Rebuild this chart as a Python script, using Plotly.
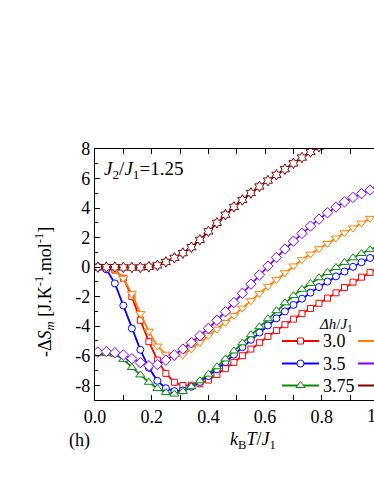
import plotly.graph_objects as go

# ---------------- data ----------------
T = [0.01, 0.04, 0.07, 0.10, 0.13, 0.16, 0.19, 0.22, 0.25, 0.28, 0.31, 0.34,
     0.37, 0.40, 0.43, 0.46, 0.49, 0.52, 0.55, 0.58, 0.61, 0.64, 0.67, 0.70,
     0.73, 0.76, 0.79, 0.82, 0.85, 0.88, 0.91, 0.94, 0.97, 1.00]

dS_30 = [0.0, -0.05, -0.2, -0.75, -2.0, -3.6, -5.05, -6.3, -7.2, -7.8, -8.02, -8.0,
         -7.9, -7.65, -7.28, -6.88, -6.45, -6.0, -5.55, -5.12, -4.7, -4.3, -3.9, -3.52,
         -3.15, -2.8, -2.45, -2.1, -1.74, -1.38, -1.02, -0.68, -0.36, -0.08]

dS_35 = [0.0, -0.15, -1.1, -2.6, -4.15, -5.6, -6.82, -7.7, -8.2, -8.4, -8.35, -8.1,
         -7.78, -7.38, -6.92, -6.43, -5.93, -5.42, -4.92, -4.43, -3.95, -3.47, -3.0, -2.56,
         -2.14, -1.73, -1.35, -0.98, -0.63, -0.3, 0.02, 0.33, 0.62, 0.9]

dS_375 = [-5.85, -5.85, -5.9, -6.25, -6.8, -7.3, -7.8, -8.22, -8.5, -8.6, -8.42, -8.1,
          -7.7, -7.25, -6.75, -6.22, -5.68, -5.13, -4.58, -4.04, -3.5, -2.95, -2.42, -1.93,
          -1.5, -1.1, -0.72, -0.36, -0.02, 0.32, 0.63, 0.92, 1.18, 1.42]

dS_orange = [0.0, -0.03, -0.2, -0.75, -1.8, -3.15, -4.35, -5.35, -5.9, -6.08, -5.95, -5.55,
             -5.1, -4.65, -4.2, -3.75, -3.27, -2.78, -2.28, -1.78, -1.3, -0.85, -0.38, 0.08,
             0.5, 0.88, 1.25, 1.6, 1.97, 2.33, 2.65, 2.98, 3.3, 3.6]

dS_purple = [-5.75, -5.72, -5.8, -5.95, -6.2, -6.47, -6.68, -6.6, -6.3, -5.95, -5.55, -5.12,
             -4.65, -4.15, -3.6, -3.02, -2.4, -1.77, -1.15, -0.53, 0.07, 0.65, 1.22, 1.76,
             2.28, 2.78, 3.25, 3.68, 4.07, 4.42, 4.72, 4.98, 5.22, 5.42]

dS_darkred = [0.0, 0.0, 0.0, -0.02, -0.03, -0.02, 0.02, 0.12, 0.35, 0.63, 0.95, 1.35,
              1.85, 2.42, 3.0, 3.55, 4.08, 4.55, 5.02, 5.46, 5.86, 6.25, 6.63, 7.03,
              7.42, 7.8, 8.15, 8.5, 8.85, 9.2, 9.5, 9.8, 10.1, 10.4]

legend_labels = ["3.0", "3.5", "3.75"]
x_tick_vals = [0.0, 0.2, 0.4, 0.6, 0.8, 1.0]
x_tick_text = ["0.0", "0.2", "0.4", "0.6", "0.8", "1.0"]
y_tick_vals = [-8, -6, -4, -2, 0, 2, 4, 6, 8]
y_tick_text = ["-8", "-6", "-4", "-2", "0", "2", "4", "6", "8"]

# ---------------- styling ----------------
FONT = "Liberation Serif, Times New Roman, Times, serif"
W, H = 374, 484
ML, MT, MB = 95, 149, 84
PX_PER_X = 283.5
XMAX = (W - ML) / PX_PER_X

series = [
    (dS_30, "#FF0000", "square", 6),
    (dS_35, "#0000FF", "circle", 7),
    (dS_375, "#0A8A0A", "triangle-up", 8),
    (dS_orange, "#FF8000", "triangle-down", 8),
    (dS_purple, "#8000FF", "diamond", 8),
    (dS_darkred, "#800000", "hexagram", 8),
]

fig = go.Figure()
for ys, col, sym, sz in series:
    fig.add_trace(go.Scatter(
        x=T, y=ys, mode="lines+markers",
        line=dict(color=col, width=1.8),
        marker=dict(symbol=sym, size=sz, color="white",
                    line=dict(color=col, width=1)),
        showlegend=False, hoverinfo="skip"))

# ---------------- manual legend (overlay axis in plot fractions) ----------------
def fx(px):
    return (px - ML) / (W - ML)

def fy(py):
    return (H - MB - py) / (H - MT - MB)

rows_py = [341, 363.5, 385.5]
col1 = series[:3]
col2 = series[3:]
for i, (ys, col, sym, sz) in enumerate(col1):
    fig.add_trace(go.Scatter(
        x=[fx(282), fx(300.5), fx(319)], y=[fy(rows_py[i])] * 3,
        mode="lines", line=dict(color=col, width=1.8),
        xaxis="x3", yaxis="y3", showlegend=False, hoverinfo="skip"))
    fig.add_trace(go.Scatter(
        x=[fx(300.5)], y=[fy(rows_py[i])], mode="markers",
        marker=dict(symbol=sym, size=sz, color="white", line=dict(color=col, width=1)),
        xaxis="x3", yaxis="y3", showlegend=False, hoverinfo="skip"))
    fig.add_annotation(x=fx(321), y=fy(rows_py[i]), xref="paper", yref="paper",
                       text=legend_labels[i], showarrow=False, xanchor="left",
                       yanchor="middle", font=dict(family=FONT, size=18, color="black"))
for i, (ys, col, sym, sz) in enumerate(col2):
    fig.add_trace(go.Scatter(
        x=[fx(358), fx(400)], y=[fy(rows_py[i])] * 2,
        mode="lines", line=dict(color=col, width=1.8),
        xaxis="x3", yaxis="y3", showlegend=False, hoverinfo="skip"))

fig.add_annotation(x=fx(317), y=fy(325), xref="paper", yref="paper",
                   text="<i>Δh</i>/<i>J</i><sub>1</sub>", showarrow=False,
                   xanchor="left", yanchor="middle",
                   font=dict(family=FONT, size=15, color="black"))

# ---------------- other texts ----------------
fig.add_annotation(x=fx(102), y=fy(170), xref="paper", yref="paper",
                   text="<i>J</i><sub>2</sub>/<i>J</i><sub>1</sub>=1.25", showarrow=False,
                   xanchor="left", yanchor="middle",
                   font=dict(family=FONT, size=19, color="black"))
fig.add_annotation(x=fx(79), y=fy(440), xref="paper", yref="paper",
                   text="(h)", showarrow=False, xanchor="center", yanchor="middle",
                   font=dict(family=FONT, size=18, color="black"))
fig.add_annotation(x=fx(253), y=fy(440), xref="paper", yref="paper",
                   text="<i>k</i><sub>B</sub><i>T</i>/<i>J</i><sub>1</sub>", showarrow=False,
                   xanchor="center", yanchor="middle",
                   font=dict(family=FONT, size=18, color="black"))
fig.add_annotation(x=fx(44), y=fy(292), xref="paper", yref="paper",
                   text="-Δ<i>S</i><sub><i>m</i></sub> [J.K<sup>-1</sup>.mol<sup>-1</sup>]",
                   showarrow=False, textangle=-90, xanchor="center", yanchor="middle",
                   font=dict(family=FONT, size=18, color="black"))
# last x tick label lies just past the cropped right edge
fig.add_annotation(x=fx(ML + x_tick_vals[-1] * PX_PER_X), y=fy(416), xref="paper", yref="paper",
                   text=x_tick_text[-1], showarrow=False, xanchor="center", yanchor="middle",
                   font=dict(family=FONT, size=18, color="black"))

tickfont = dict(family=FONT, size=18, color="black")
fig.update_layout(
    width=W, height=H,
    margin=dict(l=ML, r=0, t=MT, b=MB, pad=0),
    paper_bgcolor="white", plot_bgcolor="white",
    showlegend=False,
    font=dict(family=FONT, color="black"),
    xaxis=dict(range=[0, XMAX], tickvals=x_tick_vals[:-1], ticktext=x_tick_text[:-1],
               ticks="inside", ticklen=5, tickwidth=1.2, tickcolor="black",
               minor=dict(tickvals=[0.1, 0.3, 0.5, 0.7, 0.9], ticks="inside",
                          ticklen=5, tickwidth=1.2, tickcolor="black"),
               showline=True, linewidth=1.3, linecolor="black", mirror="allticks",
               showgrid=False, zeroline=False, tickfont=tickfont),
    yaxis=dict(range=[-9, 8], tickvals=y_tick_vals, ticktext=y_tick_text,
               ticks="inside", ticklen=5, tickwidth=1.2, tickcolor="black",
               minor=dict(tickvals=[-7, -5, -3, -1, 1, 3, 5, 7], ticks="inside",
                          ticklen=3, tickwidth=1.2, tickcolor="black"),
               showline=True, linewidth=1.3, linecolor="black",
               showgrid=False, zeroline=False, tickfont=tickfont),
    xaxis3=dict(overlaying="x", range=[0, 1], visible=False, domain=[0, 1]),
    yaxis3=dict(overlaying="y", range=[0, 1], visible=False),
)

fig.write_html("out.html",
               config={"displayModeBar": False},
               post_script="document.body.style.margin='0';document.body.style.overflow='hidden';")
